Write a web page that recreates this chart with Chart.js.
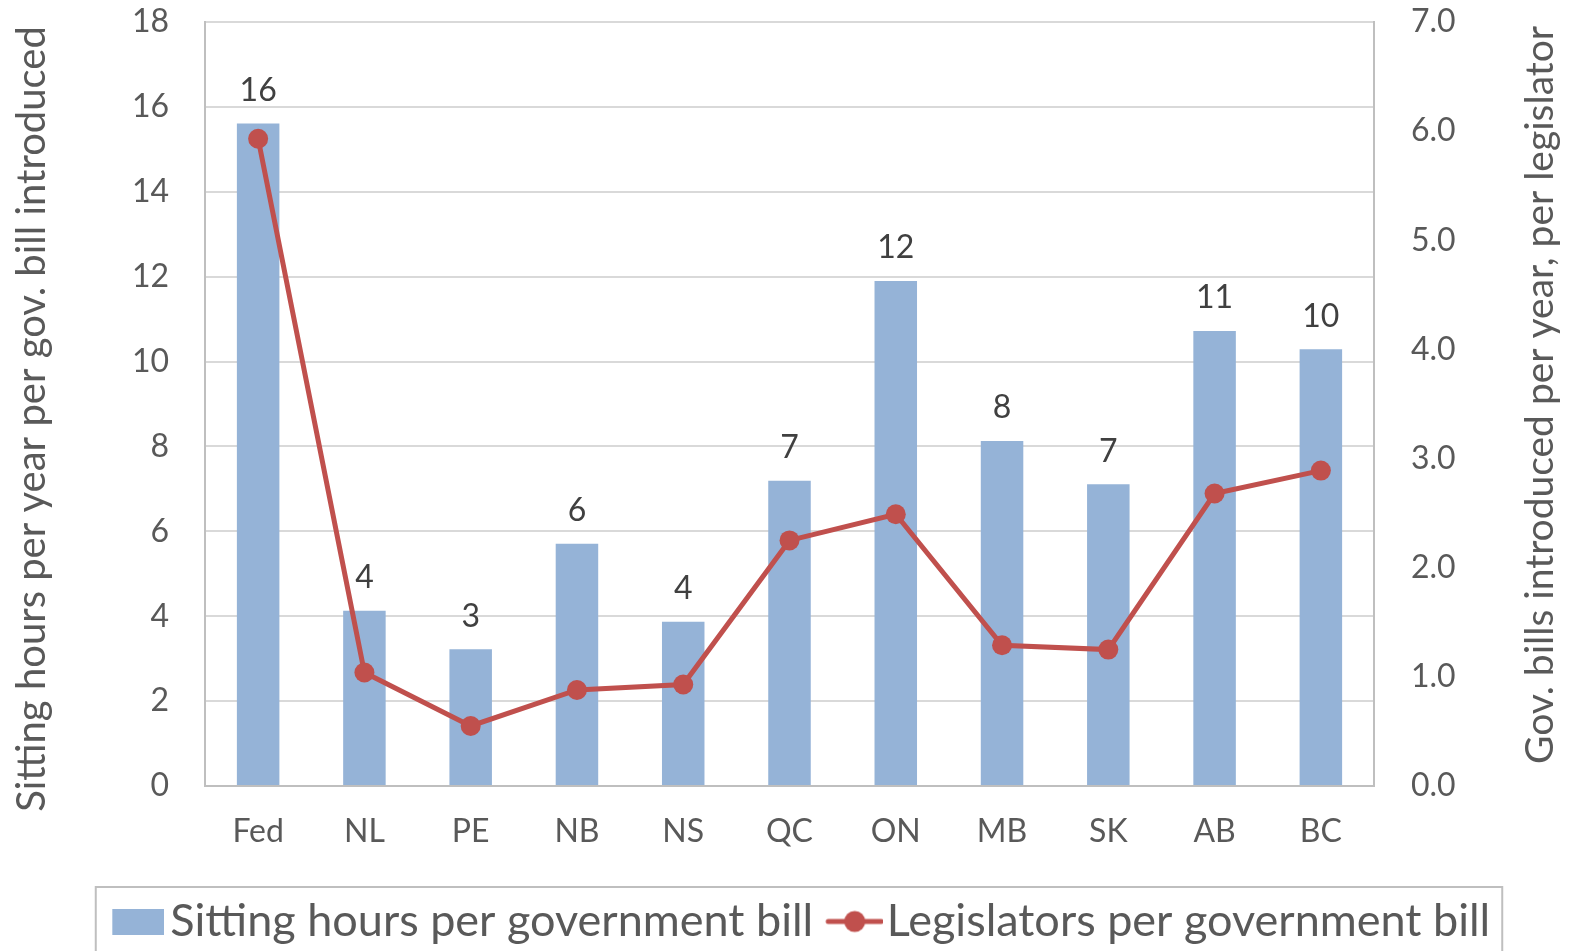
<!DOCTYPE html>
<html>
<head>
<meta charset="utf-8">
<script src="https://cdn.jsdelivr.net/npm/chart.js@4.4.1/dist/chart.umd.min.js"></script>
<style>
  body { margin: 0; background: #fff; }
  canvas { display: block; }
</style>
</head>
<body>
<canvas id="grafico" width="1574" height="951"></canvas>
<script>
const provincias = ["Fed", "NL", "PE", "NB", "NS", "QC", "ON", "MB", "SK", "AB", "BC"];
const horasPorProyecto = [15.61, 4.13, 3.22, 5.71, 3.87, 7.19, 11.9, 8.13, 7.11, 10.72, 10.29];
const legisladoresPorProyecto = [5.93, 1.04, 0.55, 0.88, 0.93, 2.25, 2.49, 1.29, 1.25, 2.68, 2.89];
const ticksIzq = [0, 2, 4, 6, 8, 10, 12, 14, 16, 18];
const ticksDer = [0, 1, 2, 3, 4, 5, 6, 7];
const tituloIzq = "Sitting hours per year per gov. bill introduced";
const tituloDer = "Gov. bills introduced per year, per legislator";

const azul = "#95B3D7";
const rojo = "#C0504D";
const gris = "#595959";
const fuente = "Lato";

// marcadores de la leyenda (parte transparente a la izquierda para acercar el texto)
function marcadorBarra() {
  const c = document.createElement("canvas");
  c.width = 69; c.height = 26;
  const ctx = c.getContext("2d");
  ctx.fillStyle = azul;
  ctx.fillRect(17, 0, 52, 26);
  return c;
}
function marcadorLinea() {
  const c = document.createElement("canvas");
  c.width = 74; c.height = 24;
  const ctx = c.getContext("2d");
  ctx.strokeStyle = rojo;
  ctx.lineWidth = 5;
  ctx.lineCap = "round";
  ctx.beginPath();
  ctx.moveTo(19, 12); ctx.lineTo(72, 12);
  ctx.stroke();
  ctx.fillStyle = rojo;
  ctx.beginPath();
  ctx.arc(45.5, 12, 10.5, 0, Math.PI * 2);
  ctx.fill();
  return c;
}
const marcadores = [marcadorBarra(), marcadorLinea()];

const etiquetasBarras = {
  id: "etiquetasBarras",
  afterDatasetsDraw(chart) {
    const ctx = chart.ctx;
    const meta = chart.getDatasetMeta(0);
    ctx.save();
    ctx.font = `32px ${fuente}`;
    ctx.fillStyle = "#404040";
    ctx.textAlign = "center";
    ctx.textBaseline = "bottom";
    meta.data.forEach((barra, i) => {
      ctx.fillText(Math.round(horasPorProyecto[i]), barra.x, barra.y - 17);
    });
    ctx.restore();
  }
};

// titulos de los ejes, los dos girados hacia arriba
const titulosEjes = {
  id: "titulosEjes",
  afterDraw(chart) {
    const ctx = chart.ctx;
    const area = chart.chartArea;
    const medio = area.top + (area.bottom - area.top) / 2;
    ctx.save();
    ctx.fillStyle = gris;
    ctx.textAlign = "center";
    ctx.textBaseline = "alphabetic";
    ctx.save();
    ctx.font = `40px ${fuente}`;
    ctx.translate(45, medio + 15);
    ctx.rotate(-Math.PI / 2);
    ctx.fillText(tituloIzq, 0, 0);
    ctx.restore();
    ctx.save();
    ctx.font = `39px ${fuente}`;
    ctx.translate(chart.width - 21, medio - 9);
    ctx.rotate(-Math.PI / 2);
    ctx.fillText(tituloDer, 0, 0);
    ctx.restore();
    ctx.restore();
  }
};

const marcoLeyenda = {
  id: "marcoLeyenda",
  afterDraw(chart) {
    const cajas = chart.legend.legendHitBoxes;
    if (!cajas || !cajas.length) return;
    const izq = Math.min(...cajas.map(c => c.left)) - 16;
    const der = Math.max(...cajas.map(c => c.left + c.width)) + 12;
    const ctx = chart.ctx;
    ctx.save();
    ctx.strokeStyle = "#BFBFBF";
    ctx.lineWidth = 2;
    ctx.strokeRect(izq, chart.legend.top + 3, der - izq, chart.height);
    ctx.restore();
  }
};

function sinRelleno(scale) {
  scale.paddingTop = 0;
  scale.paddingBottom = 0;
}

new Chart(document.getElementById("grafico"), {
  data: {
    labels: provincias,
    datasets: [
      {
        type: "bar",
        label: "Sitting hours per government bill",
        data: horasPorProyecto,
        backgroundColor: azul,
        barPercentage: 0.4,
        categoryPercentage: 1,
        yAxisID: "y",
        order: 2
      },
      {
        type: "line",
        label: "Legislators per government bill",
        data: legisladoresPorProyecto,
        borderColor: rojo,
        backgroundColor: rojo,
        borderWidth: 5,
        pointRadius: 10,
        pointBackgroundColor: rojo,
        pointBorderWidth: 0,
        tension: 0,
        yAxisID: "y1",
        order: 1
      }
    ]
  },
  options: {
    responsive: false,
    devicePixelRatio: 1,
    animation: false,
    layout: { padding: { top: 22, left: 28, right: 0, bottom: -3 } },
    plugins: {
      tooltip: { enabled: false },
      legend: {
        position: "bottom",
        labels: {
          usePointStyle: true,
          pointStyleWidth: 36,
          padding: 15,
          color: gris,
          font: { family: fuente, size: 45 },
          generateLabels(chart) {
            const base = Chart.defaults.plugins.legend.labels.generateLabels(chart);
            base.sort((a, b) => a.datasetIndex - b.datasetIndex);
            base.forEach(item => { item.pointStyle = marcadores[item.datasetIndex]; });
            return base;
          }
        }
      }
    },
    scales: {
      x: {
        grid: { display: false, drawTicks: false },
        border: { display: true, color: "#BFBFBF", width: 2 },
        ticks: { color: gris, font: { family: fuente, size: 32 }, padding: 26 },
        afterFit(scale) { scale.height = 98; }
      },
      y: {
        position: "left",
        min: 0,
        max: 18,
        afterBuildTicks(scale) { scale.ticks = ticksIzq.map(v => ({ value: v })); },
        grid: { color: "#D9D9D9", lineWidth: 2, drawTicks: false },
        border: { display: true, color: "#BFBFBF", width: 2 },
        ticks: { color: gris, font: { family: fuente, size: 32 }, padding: 36 },
        afterFit(scale) { scale.width = 177; sinRelleno(scale); }
      },
      y1: {
        position: "right",
        min: 0,
        max: 7,
        afterBuildTicks(scale) { scale.ticks = ticksDer.map(v => ({ value: v })); },
        grid: { drawOnChartArea: false, drawTicks: false },
        border: { display: true, color: "#BFBFBF", width: 2 },
        ticks: {
          color: gris,
          font: { family: fuente, size: 32 },
          padding: 37,
          callback: v => v.toFixed(1)
        },
        afterFit(scale) { scale.width = 200; sinRelleno(scale); }
      }
    }
  },
  plugins: [etiquetasBarras, titulosEjes, marcoLeyenda]
});
</script>
</body>
</html>
